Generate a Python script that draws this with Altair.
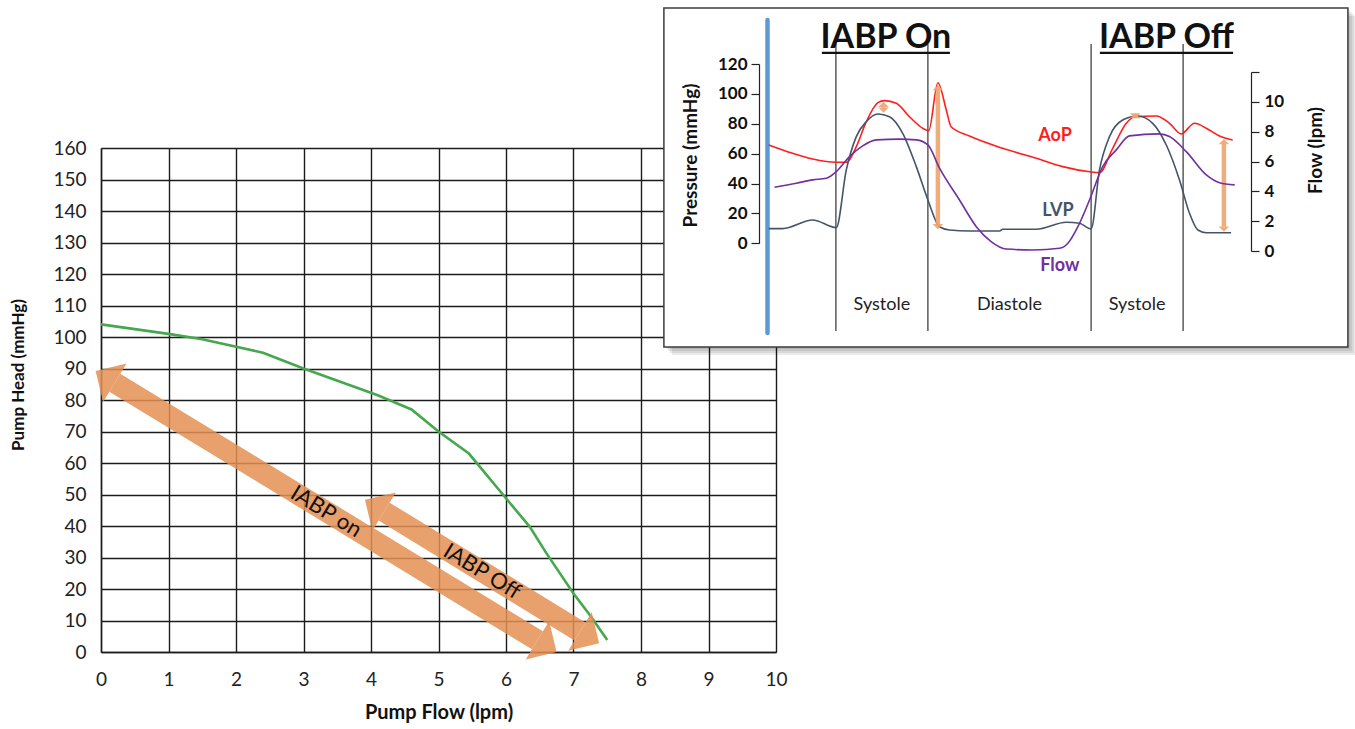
import math
import altair as alt
import pandas as pd

# ---------------- pump performance curve ----------------
PUMP_FLOW = [0, 1, 1.5, 2.4, 3, 4.1, 4.6, 5, 5.45, 6, 6.35, 6.6, 7, 7.25, 7.5]
PUMP_HEAD = [104, 101, 99.3, 95, 90, 81.5, 77, 70, 63, 48.8, 39.8, 31.3, 18.6, 11.5, 3.8]
FLOW_TICKS = list(range(0, 11))
HEAD_TICKS = list(range(0, 161, 10))

# operating range with and without balloon pump (tip to tip)
SHIFT_LABELS = ["IABP on", "IABP Off"]
SHIFT_FLOW_FROM = [-0.08, 3.91]
SHIFT_HEAD_FROM = [89.2, 48.3]
SHIFT_FLOW_TO = [6.75, 7.38]
SHIFT_HEAD_TO = [0.0, 2.8]

# ---------------- inset: waveforms (time in s) ----------------
AOP_T = [0.003, 0.063, 0.113, 0.172, 0.198, 0.222, 0.247, 0.276, 0.2925, 0.322, 0.355, 0.388,
         0.403, 0.426, 0.447, 0.459, 0.505, 0.588, 0.672, 0.738, 0.805, 0.83, 0.863, 0.897,
         0.9175, 0.972, 1.005, 1.034, 1.0675, 1.097, 1.13, 1.163]
AOP = [65.8, 60.2, 56.4, 54.2, 54.2, 64.7, 81.4, 94.1, 95.5, 93.7, 84.7, 77.0,
       75.4, 107.5, 89.2, 78.0, 71.8, 63.6, 56.9, 51.3, 47.9, 47.3, 63.6, 80.3,
       84.7, 85.2, 80.3, 73.2, 80.3, 77.0, 71.8, 69.1]

LVP_T = [0.003, 0.038, 0.113, 0.172, 0.197, 0.222, 0.247, 0.276, 0.305, 0.338, 0.372, 0.401,
         0.43, 0.455, 0.505, 0.58, 0.588, 0.672, 0.747, 0.78, 0.809, 0.83, 0.855, 0.888,
         0.926, 0.963, 0.997, 1.03, 1.055, 1.076, 1.097, 1.159]
LVP = [9.8, 9.8, 15.6, 10.5, 49.1, 71.4, 81.4, 86.5, 84.7, 73.6, 51.3, 29.0,
       11.1, 8.9, 8.2, 8.2, 9.4, 9.4, 14.1, 13.4, 9.6, 49.1, 71.4, 82.5,
       85.2, 80.3, 65.8, 42.4, 20.1, 8.9, 7.1, 7.1]

FLOW_T = [0.0175, 0.072, 0.113, 0.147, 0.172, 0.205, 0.238, 0.272, 0.33, 0.372, 0.401, 0.43,
          0.48, 0.522, 0.559, 0.597, 0.663, 0.73, 0.751, 0.776, 0.805, 0.838, 0.872, 0.905,
          0.98, 1.005, 1.047, 1.097, 1.13, 1.168]
FLOW = [4.27, 4.54, 4.77, 4.88, 5.32, 6.33, 7.05, 7.45, 7.50, 7.45, 7.11, 5.55,
        3.42, 1.63, 0.63, 0.13, 0.07, 0.18, 0.52, 1.63, 3.42, 5.66, 6.78, 7.72,
        7.85, 7.67, 6.66, 5.10, 4.58, 4.43]

PHASE_EDGES = [0.171, 0.401, 0.809, 1.039]
PHASE_NAMES = ["Systole", "Diastole", "Systole"]
HEADERS = ["IABP On", "IABP Off"]
HEADER_T_FROM = [0.136, 0.831]
HEADER_T_TO = [0.456, 1.164]
TRACE_NAMES = ["AoP", "LVP", "Flow"]
TRACE_LABEL_T = [0.719, 0.726, 0.731]
TRACE_LABEL_P = [71.8, 21.6, -15.2]
GAP_T = [0.29, 0.426, 0.919, 1.141]
GAP_TOP = [94.8, 105.9, 87.2, 69.8]
GAP_BOTTOM = [87.4, 9.4, 83.5, 7.8]
PRESSURE_TICKS = list(range(0, 121, 20))
FLOW_AXIS_TICKS = list(range(0, 13, 2))

# inset frame and guide extents (s, mmHg)
BOX_T = [-0.259, 1.451]
BOX_P = [-69.4, 157.5]
MARKER_P = [-60.0, 149.5]
PHASE_LINE_P = [-58.7, 133.4]
PHASE_LABEL_P = -41.3
HEADER_P = 130.7
UNDERLINE_P = 127.4

# ---------------- layout / style ----------------
W, H = 675, 504
FONT = "Lato"
GREEN = "#45A74E"
ORANGE = "#E48F52"
ORANGE_LIGHT = "#EDA46E"
RED = "#FF1E1E"
SLATE = "#44546A"
PURPLE = "#7030A0"
BLUE = "#5B9BD5"
INK = "#1c1c1c"

T_SCALE = alt.Scale(domain=[0, 1.3], range=[666.5, 1186.5], nice=False, zero=False)
P_SCALE = alt.Scale(domain=[0, 120], range=[95.3, -84], nice=False, zero=False)
F_SCALE = alt.Scale(domain=[0, 12], range=[103, -76], nice=False, zero=False)
PX_PER_S = 400.0
PX_PER_MMHG = (95.3 + 84) / 120

# ---------------- main chart ----------------
x_axis = alt.Axis(orient="bottom", values=FLOW_TICKS, grid=True, gridColor=INK, gridWidth=1.4,
                  gridOpacity=1, domainColor=INK, domainWidth=1.4, ticks=False, tickSize=0,
                  labelFont=FONT, labelFontSize=19, labelColor="#222", labelPadding=18,
                  labelFlush=False, labelOverlap=False,
                  title="Pump Flow (lpm)", titleFont=FONT, titleFontSize=20, titleFontWeight="bold",
                  titleColor="#111", titleX=W / 2, titleY=60, titleBaseline="middle", titleAlign="center")
y_axis = alt.Axis(orient="left", values=HEAD_TICKS, grid=True, gridColor=INK, gridWidth=1.4,
                  gridOpacity=1, domainColor=INK, domainWidth=1.4, ticks=False, tickSize=0,
                  labelFont=FONT, labelFontSize=19, labelColor="#222", labelPadding=15,
                  labelOverlap=False,
                  title="Pump Head (mmHg)", titleFont=FONT, titleFontSize=17, titleFontWeight="bold",
                  titleColor="#111", titleX=-83, titleY=226.5, titleAngle=270,
                  titleBaseline="middle", titleAlign="center")
mx = alt.X("flow:Q", scale=alt.Scale(domain=[0, 10], nice=False, zero=False), axis=x_axis)
my = alt.Y("head:Q", scale=alt.Scale(domain=[0, 160], nice=False, zero=False), axis=y_axis)

curve_df = pd.DataFrame({"flow": PUMP_FLOW, "head": PUMP_HEAD})
curve = alt.Chart(curve_df).mark_line(color=GREEN, strokeWidth=2.6).encode(x=mx, y=my)

# double-headed arrows: shaft between the heads, heads rotated along the shaft
px_flow, px_head = W / 10, H / 160
HEAD_LEN = 22.5
shaft_rows, head_rows, text_rows = [], [], []
for lab, f0, h0, f1, h1 in zip(SHIFT_LABELS, SHIFT_FLOW_FROM, SHIFT_HEAD_FROM,
                               SHIFT_FLOW_TO, SHIFT_HEAD_TO):
    dx, dy = (f1 - f0) * px_flow, (h0 - h1) * px_head
    length = math.hypot(dx, dy)
    ux, uy = dx / length, dy / length
    ang = math.degrees(math.atan2(dy, dx))
    shaft_rows.append({
        "flow": f0 + HEAD_LEN * ux / px_flow, "head": h0 - HEAD_LEN * uy / px_head,
        "flow2": f1 - HEAD_LEN * ux / px_flow, "head2": h1 + HEAD_LEN * uy / px_head,
    })
    head_rows.append({"flow": f0, "head": h0, "ang": ang + 270})
    head_rows.append({"flow": f1, "head": h1, "ang": ang + 90})
    text_rows.append({"flow": (f0 + f1) / 2, "head": (h0 + h1) / 2, "label": lab, "ang": ang})

ARROW_HEAD_PATH = "M0,0L1,1L-1,1Z"
shafts = alt.Chart(pd.DataFrame(shaft_rows)).mark_rule(
    color=ORANGE, strokeWidth=21, opacity=0.85, strokeCap="butt"
).encode(x=mx, y=my, x2="flow2:Q", y2="head2:Q")
heads = alt.Chart(pd.DataFrame(head_rows)).mark_point(
    shape=ARROW_HEAD_PATH, filled=True, size=2025, color=ORANGE, opacity=0.85, strokeWidth=0
).encode(x=mx, y=my, angle=alt.Angle("ang:Q", scale=None))
shift_text = alt.Chart(pd.DataFrame(text_rows)).mark_text(
    font=FONT, fontSize=22, color="#111", align="center", baseline="middle"
).encode(x=mx, y=my, text="label:N", angle=alt.Angle("ang:Q", scale=None))

main = alt.layer(curve, shafts, heads, shift_text)

# ---------------- inset ----------------
p_axis = alt.Axis(orient="left", offset=-658, values=PRESSURE_TICKS, grid=False,
                  domainColor="#222", domainWidth=1.2, tickColor="#222", tickSize=8, tickWidth=1.2,
                  labelFont=FONT, labelFontSize=17, labelFontWeight="bold", labelColor="#111",
                  labelPadding=4, labelOverlap=False, zindex=1,
                  title="Pressure (mmHg)", titleFont=FONT, titleFontSize=19, titleFontWeight="bold",
                  titleColor="#111", titleAngle=270, titleX=-69, titleY=7,
                  titleBaseline="middle", titleAlign="center")
f_axis = alt.Axis(orient="right", offset=475, values=FLOW_AXIS_TICKS, grid=False,
                  domainColor="#222", domainWidth=1.2, tickColor="#222", tickSize=8, tickWidth=1.2,
                  labelFont=FONT, labelFontSize=17, labelFontWeight="bold", labelColor="#111",
                  labelPadding=5, labelOverlap=False, zindex=1,
                  labelExpr="datum.value == 12 ? '' : datum.label",
                  title="Flow (lpm)", titleFont=FONT, titleFontSize=19, titleFontWeight="bold",
                  titleColor="#111", titleAngle=270, titleX=64, titleY=2,
                  titleBaseline="middle", titleAlign="center")
tx = alt.X("t:Q", scale=T_SCALE, axis=None)
py = alt.Y("p:Q", scale=P_SCALE, axis=p_axis)

shadow_rows = []
for k in [2, 4, 6, 8]:
    shadow_rows.append({"t": BOX_T[0] + k / PX_PER_S, "t2": BOX_T[1] + k / PX_PER_S,
                        "p": BOX_P[0] - k / PX_PER_MMHG, "p2": BOX_P[1] - k / PX_PER_MMHG})
shadow = alt.Chart(pd.DataFrame(shadow_rows)).mark_rect(color="#000", opacity=0.08).encode(
    x=tx, x2="t2:Q", y=py, y2="p2:Q")
box = alt.Chart(pd.DataFrame([{"t": BOX_T[0], "t2": BOX_T[1], "p": BOX_P[0], "p2": BOX_P[1]}])).mark_rect(
    fill="white", stroke="#3c3c3c", strokeWidth=1.5).encode(x=tx, x2="t2:Q", y=py, y2="p2:Q")

marker = alt.Chart(pd.DataFrame([{"t": 0.0, "p": MARKER_P[0], "p2": MARKER_P[1]}])).mark_rule(
    color=BLUE, strokeWidth=4.5, strokeCap="round").encode(x=tx, y=py, y2="p2:Q")

phase_df = pd.DataFrame({"t": PHASE_EDGES, "p": PHASE_LINE_P[0], "p2": PHASE_LINE_P[1]})
phase_lines = alt.Chart(phase_df).mark_rule(color="#333", strokeWidth=1.2).encode(
    x=tx, y=py, y2="p2:Q")

phase_lab_df = pd.DataFrame({
    "t": [(a + b) / 2 for a, b in zip(PHASE_EDGES[:-1], PHASE_EDGES[1:])],
    "p": PHASE_LABEL_P, "label": PHASE_NAMES})
phase_labels = alt.Chart(phase_lab_df).mark_text(
    font=FONT, fontSize=18, color="#222", baseline="middle").encode(x=tx, y=py, text="label:N")

header_df = pd.DataFrame({
    "t": [(a + b) / 2 for a, b in zip(HEADER_T_FROM, HEADER_T_TO)], "p": HEADER_P,
    "label": HEADERS})
headers = alt.Chart(header_df).mark_text(
    font=FONT, fontSize=34, fontWeight="bold", color="#111", baseline="alphabetic"
).encode(x=tx, y=py, text="label:N")
underline_df = pd.DataFrame({"t": HEADER_T_FROM, "t2": HEADER_T_TO, "p": UNDERLINE_P})
underlines = alt.Chart(underline_df).mark_rule(color="#111", strokeWidth=2.2).encode(
    x=tx, x2="t2:Q", y=py)

aop = alt.Chart(pd.DataFrame({"t": AOP_T, "p": AOP})).mark_line(
    color=RED, strokeWidth=1.6, interpolate="monotone").encode(x=tx, y=py)
lvp = alt.Chart(pd.DataFrame({"t": LVP_T, "p": LVP})).mark_line(
    color=SLATE, strokeWidth=1.6, interpolate="monotone").encode(x=tx, y=py)

GAP_HEAD_LEN = 5.0
gap_shafts, gap_heads = [], []
for t, top, bot in zip(GAP_T, GAP_TOP, GAP_BOTTOM):
    inset_len = GAP_HEAD_LEN / PX_PER_MMHG
    if top - bot > 2 * inset_len:
        gap_shafts.append({"t": t, "p": top - inset_len, "p2": bot + inset_len})
    gap_heads.append({"t": t, "p": top, "ang": 0})
    gap_heads.append({"t": t, "p": bot, "ang": 180})
gap_shaft = alt.Chart(pd.DataFrame(gap_shafts)).mark_rule(
    color=ORANGE_LIGHT, strokeWidth=4.5, opacity=0.9, strokeCap="butt").encode(x=tx, y=py, y2="p2:Q")
gap_head = alt.Chart(pd.DataFrame(gap_heads)).mark_point(
    shape=ARROW_HEAD_PATH, filled=True, size=110, color=ORANGE_LIGHT, opacity=0.9, strokeWidth=0
).encode(x=tx, y=py, angle=alt.Angle("ang:Q", scale=None))

trace_df = pd.DataFrame({"t": TRACE_LABEL_T, "p": TRACE_LABEL_P, "label": TRACE_NAMES,
                         "c": [RED, SLATE, PURPLE]})
trace_labels = alt.Chart(trace_df).mark_text(
    font=FONT, fontSize=18, fontWeight="bold", baseline="middle"
).encode(x=tx, y=py, text="label:N", color=alt.Color("c:N", scale=None))

inset_p = alt.layer(shadow, box, marker, phase_lines, phase_labels, headers, underlines,
                    aop, lvp, gap_shaft, gap_head, trace_labels)

flow_line = alt.Chart(pd.DataFrame({"t": FLOW_T, "f": FLOW})).mark_line(
    color=PURPLE, strokeWidth=1.6, interpolate="monotone"
).encode(x=tx, y=alt.Y("f:Q", scale=F_SCALE, axis=f_axis))

chart = alt.layer(main, inset_p, flow_line).resolve_scale(
    x="independent", y="independent"
).properties(
    width=W, height=H,
    autosize=alt.AutoSizeParams(type="none"),
    padding={"left": 101, "top": 148, "right": 579, "bottom": 77},
    background="white",
).configure_view(stroke=None)

chart.save("out.html", embed_options={"renderer": "svg", "actions": False})
